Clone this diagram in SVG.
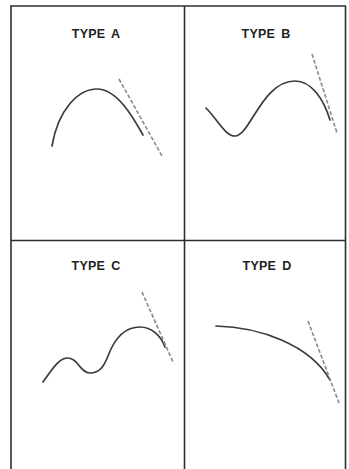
<svg xmlns="http://www.w3.org/2000/svg" width="349" height="469" viewBox="0 0 349 469">
<style>
.frame{stroke:#2e2e2e;stroke-width:1.6;fill:none}
.lbl{font-family:"Liberation Sans",Arial,sans-serif;font-weight:bold;font-size:12.5px;letter-spacing:0.2px;word-spacing:2.5px;fill:#222;text-anchor:middle}
.curve{stroke:#3a3a3a;stroke-width:1.7;fill:none;stroke-linecap:round}
.tan{stroke:#8a8a8a;stroke-width:1.6;fill:none;stroke-dasharray:4 2}
</style>
<rect width="349" height="469" fill="#ffffff"/>
<g id="frame">
<line class="frame" x1="10" y1="6" x2="346" y2="6"/>
<line class="frame" x1="11" y1="6" x2="11" y2="469"/>
<line class="frame" x1="345.5" y1="6" x2="345.5" y2="469"/>
<line class="frame" x1="184.5" y1="6" x2="184.5" y2="469"/>
<line class="frame" x1="11" y1="240.5" x2="345.5" y2="240.5"/>
</g>
<g id="typeA">
<text class="lbl" x="96" y="37.5">TYPE A</text>
<path class="curve" d="M52,146 C58,110 78,89 97,89 C117,89 133,117 143,135"/>
</g>
<g id="typeB">
<text class="lbl" x="266" y="37.5">TYPE B</text>
<path class="curve" d="M206,108 C218,120 225,136 235,136 C250,136 262,81 295,81 C312,81 324,100 330,120"/>
</g>
<g id="typeC">
<text class="lbl" x="96" y="269.5">TYPE C</text>
<path class="curve" d="M43,382 C52,370 58,358 68,358 C78,358 80,373 90,373 C100,373 104,366 108,356 C114,340 124,327 140,327 C152,327 161,336 165,347"/>
</g>
<g id="typeD">
<text class="lbl" x="267" y="269.5">TYPE D</text>
<path class="curve" d="M216,326 C260,327 310,345 330,380"/>
</g>
<g id="connectors">
<line class="tan" x1="119" y1="79" x2="162" y2="156"/>
<line class="tan" x1="312" y1="54" x2="337" y2="133"/>
<line class="tan" x1="142" y1="292" x2="173" y2="362"/>
<line class="tan" x1="308" y1="321" x2="339" y2="403"/>
</g>
</svg>
